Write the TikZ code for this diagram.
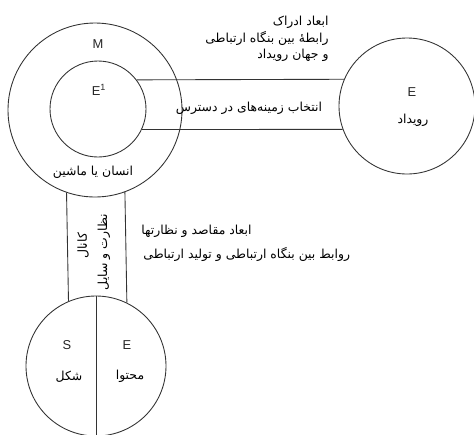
\documentclass[tikz,border=0pt]{standalone}
\usepackage{fontspec}
\setsansfont{Liberation Sans}
\newfontfamily\farsi[Script=Arabic]{DejaVu Sans}
\TeXXeTstate=1
\usetikzlibrary{positioning}
\newcommand{\fa}[1]{{\farsi\beginR #1\endR}}

\begin{document}
\begin{tikzpicture}[
    x=0.03cm, y=-0.03cm,
    ring/.style={circle, draw=black!80, line width=0.75pt, inner sep=0},
    band/.style={draw=black!80, line width=0.75pt},
    letter/.style={font=\sffamily\fontsize{11}{12}\selectfont, text=black!85, inner sep=1pt},
    fatext/.style={font=\farsi\fontsize{10.6}{14}\selectfont, text=black, inner sep=1pt}]
\useasboundingbox (0,0) rectangle (474,434);

% circles
\node[ring, minimum size=174*0.03cm] (M) at (95,110) {};
\node[ring, minimum size=96*0.03cm] (Ein) at (98,109) {};
\node[ring, minimum size=136*0.03cm] (Ev) at (407,106) {};
\node[ring, minimum size=140*0.03cm] (SE) at (96,366) {};

% bands
\path[band] (Ein.37.17) -- (Ev.157.52);
\path[band] (Ein.-25.94) -- (Ev.200.67);
\path[band] (M.251.9) -- (SE.113.6);
\path[band] (M.290.9) -- (SE.64.6);
\path[band] (SE.north) -- (SE.south);

% labels
\node[letter] (lM) at (98,44) {M};
\node[letter] (lEin) at (99,90) {E$^{\mathsf{1}}$};
\node[fatext] (lman) at (93,172) {\fa{انسان یا ماشین}};
\node[fatext, anchor=north east, align=right] (ltop) at (330,15) {\fa{ابعاد ادراک}\\ \fa{رابطهٔ بین بنگاه ارتباطی}\\ \fa{و جهان رویداد}};
\node[fatext] (lsel) at (249,108) {\fa{انتخاب زمینه‌های در دسترس}};
\node[letter] (lEv) at (412,92) {E};
\node[fatext] (lev) at (413,120) {\fa{رویداد}};
\node[fatext, rotate=90] (lch) at (83,246) {\fa{کانال}};
\node[fatext, rotate=90] (lctl) at (104,252) {\fa{نظارت و سایل}};
\node[fatext, anchor=west] (lgoal) at (140,231) {\fa{ابعاد مقاصد و نظارتها}};
\node[fatext, anchor=west] (lrel) at (142,254) {\fa{روابط بین بنگاه ارتباطی و تولید ارتباطی}};
\node[letter] (lS) at (67,345) {S};
\node[fatext] (lform) at (69,377) {\fa{شکل}};
\node[letter] (lE) at (127,345) {E};
\node[fatext] (lcont) at (130,376) {\fa{محتوا}};

\end{tikzpicture}
\end{document}
